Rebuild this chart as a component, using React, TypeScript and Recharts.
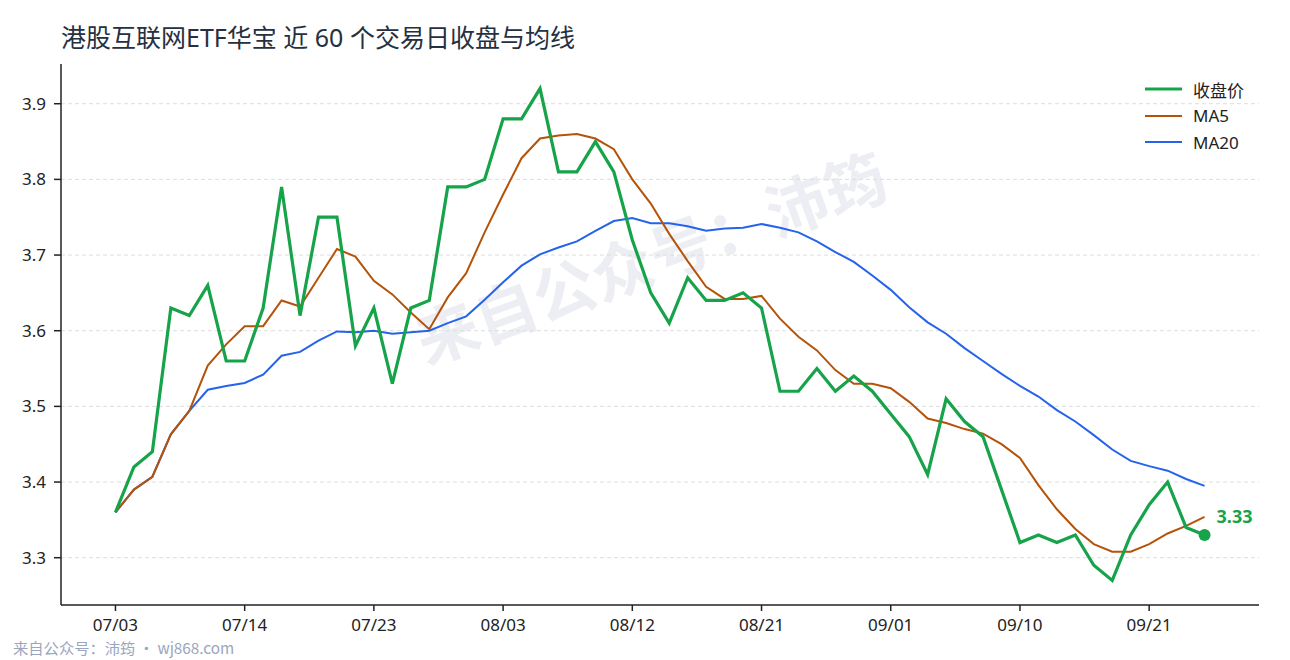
import React from 'react'
import { CartesianGrid, Line, LineChart, XAxis, YAxis } from 'recharts'

const TITLE = '港股互联网ETF华宝 近 60 个交易日收盘与均线'
const FOOTER = '来自公众号：沛筠 · wj868.com'
const WATERMARK = '来自公众号：沛筠'

const dates = [
  '07/03', '07/04', '07/07', '07/08', '07/09', '07/10', '07/11', '07/14', '07/15', '07/16',
  '07/17', '07/18', '07/21', '07/22', '07/23', '07/24', '07/25', '07/28', '07/29', '07/30',
  '07/31', '08/03', '08/04', '08/05', '08/06', '08/07', '08/08', '08/11', '08/12', '08/13',
  '08/14', '08/15', '08/18', '08/19', '08/20', '08/21', '08/22', '08/25', '08/26', '08/27',
  '08/28', '08/29', '09/01', '09/02', '09/03', '09/04', '09/05', '09/08', '09/09', '09/10',
  '09/11', '09/12', '09/15', '09/16', '09/17', '09/18', '09/21', '09/22', '09/23', '09/24',
]

const close = [
  3.36, 3.42, 3.44, 3.63, 3.62, 3.66, 3.56, 3.56, 3.63, 3.79,
  3.62, 3.75, 3.75, 3.58, 3.63, 3.53, 3.63, 3.64, 3.79, 3.79,
  3.8, 3.88, 3.88, 3.92, 3.81, 3.81, 3.85, 3.81, 3.72, 3.65,
  3.61, 3.67, 3.64, 3.64, 3.65, 3.63, 3.52, 3.52, 3.55, 3.52,
  3.54, 3.52, 3.49, 3.46, 3.41, 3.51, 3.48, 3.46, 3.39, 3.32,
  3.33, 3.32, 3.33, 3.29, 3.27, 3.33, 3.37, 3.4, 3.34, 3.33,
]

const ma5 = [
  3.36, 3.39, 3.407, 3.463, 3.494, 3.554, 3.582, 3.606, 3.606, 3.64,
  3.632, 3.67, 3.708, 3.698, 3.666, 3.648, 3.624, 3.602, 3.644, 3.676,
  3.73, 3.78, 3.828, 3.854, 3.858, 3.86, 3.854, 3.84, 3.8, 3.768,
  3.728, 3.692, 3.658, 3.642, 3.642, 3.646, 3.616, 3.592, 3.574, 3.548,
  3.53, 3.53, 3.524, 3.506, 3.484, 3.478, 3.47, 3.464, 3.45, 3.432,
  3.396, 3.364, 3.338, 3.318, 3.308, 3.308, 3.318, 3.332, 3.342, 3.354,
]

const ma20 = [
  3.36, 3.39, 3.407, 3.463, 3.494, 3.522, 3.527, 3.531, 3.542, 3.567,
  3.572, 3.587, 3.599, 3.598, 3.6, 3.596, 3.598, 3.6, 3.61, 3.619,
  3.641, 3.664, 3.686, 3.701, 3.71, 3.718, 3.732, 3.745, 3.749, 3.742,
  3.742, 3.738, 3.732, 3.735, 3.736, 3.741, 3.736, 3.73, 3.718, 3.704,
  3.691, 3.673, 3.654, 3.631, 3.611, 3.596, 3.577, 3.56, 3.543, 3.527,
  3.513, 3.495, 3.48, 3.462, 3.443, 3.428, 3.421, 3.415, 3.404, 3.395,
]

const xTicks = [0, 7, 14, 21, 28, 35, 42, 49, 56]
const yTicks = [3.3, 3.4, 3.5, 3.6, 3.7, 3.8, 3.9]
const Y_MIN = 3.2375
const Y_MAX = 3.9525

const COLORS = {
  close: '#16a34a',
  ma5: '#b45309',
  ma20: '#2563eb',
}

const LEGEND_ITEMS = [
  { key: 'close', label: '收盘价', color: COLORS.close, width: 3 },
  { key: 'ma5', label: 'MA5', color: COLORS.ma5, width: 2 },
  { key: 'ma20', label: 'MA20', color: COLORS.ma20, width: 2 },
]

const FONT = '"Noto Sans", "Noto Sans CJK SC", sans-serif'
const CJK_FONT = '"Noto Sans CJK SC", sans-serif'

const data = dates.map((d, i) => ({ idx: i, date: d, close: close[i], ma5: ma5[i], ma20: ma20[i] }))
const LAST = data.length - 1

// grid only at the tick values (no line at the top edge of the plot)
function gridRows({ offset }: any) {
  return yTicks.map(t => offset.top + (offset.height * (Y_MAX - t)) / (Y_MAX - Y_MIN))
}

function LastDot(props: any) {
  const { cx, cy, index } = props
  if (index !== LAST) return <g key={`d-${index}`} />
  return (
    <g key={`d-${index}`}>
      <circle cx={cx} cy={cy} r={6} fill={COLORS.close} />
      <text x={cx + 12} y={cy - 12} fill={COLORS.close} fontSize={18} fontWeight={700} fontFamily={FONT}>
        {close[LAST].toFixed(2)}
      </text>
    </g>
  )
}

function LegendBox() {
  return (
    <div style={{ position: 'absolute', left: 1145, top: 76, fontFamily: FONT, fontSize: 17, color: '#222' }}>
      {LEGEND_ITEMS.map(it => (
        <div key={it.key} style={{ display: 'flex', alignItems: 'center', height: 26.5 }}>
          <svg width={37} height={6} style={{ marginRight: 11 }}>
            <line x1={0} y1={3} x2={37} y2={3} stroke={it.color} strokeWidth={it.width} />
          </svg>
          <span>{it.label}</span>
        </div>
      ))}
    </div>
  )
}

export default function App() {
  return (
    <div style={{ position: 'absolute', left: 0, top: 0, width: 1290, height: 660, background: '#fff', overflow: 'hidden' }}>
      <div
        style={{
          position: 'absolute',
          left: 650,
          top: 255,
          transform: 'translate(-50%, -50%) rotate(-20deg)',
          fontFamily: CJK_FONT,
          fontWeight: 700,
          fontSize: 62,
          color: '#eceef3',
          whiteSpace: 'nowrap',
        }}
      >
        {WATERMARK}
      </div>
      <div
        style={{
          position: 'absolute',
          left: 61,
          top: 18,
          fontFamily: FONT,
          fontSize: 25,
          color: '#263040',
          whiteSpace: 'nowrap',
        }}
      >
        {TITLE}
      </div>
      <div
        style={{
          position: 'absolute',
          left: 13,
          top: 636,
          fontFamily: CJK_FONT,
          fontSize: 15.3,
          color: '#9aa6bd',
          whiteSpace: 'nowrap',
        }}
      >
        {FOOTER}
      </div>
      <div style={{ position: 'absolute', left: 0, top: 0 }}>
        <LineChart width={1290} height={660} data={data} margin={{ top: 64, right: 31, left: 11, bottom: 25 }}>
          <CartesianGrid
            vertical={false}
            stroke="#dddddd"
            strokeDasharray="4 3"
            horizontalCoordinatesGenerator={gridRows}
          />
          <XAxis
            dataKey="idx"
            type="number"
            domain={[-2.95, 61.95]}
            ticks={xTicks}
            tickFormatter={(v: number) => dates[v]}
            height={30}
            axisLine={{ stroke: '#222', strokeWidth: 1.5 }}
            tickLine={{ stroke: '#222', strokeWidth: 1.5 }}
            tickSize={6}
            tickMargin={8}
            tick={{ fontSize: 17, fill: '#222', fontFamily: FONT }}
            allowDataOverflow
          />
          <YAxis
            type="number"
            domain={[Y_MIN, Y_MAX]}
            ticks={yTicks}
            tickFormatter={(v: number) => v.toFixed(1)}
            width={50}
            axisLine={{ stroke: '#222', strokeWidth: 1.5 }}
            tickLine={{ stroke: '#222', strokeWidth: 1.5 }}
            tickSize={7}
            tickMargin={8}
            tick={{ fontSize: 17, fill: '#222', fontFamily: FONT }}
            allowDataOverflow
          />
          <Line
            type="linear"
            dataKey="ma20"
            stroke={COLORS.ma20}
            strokeWidth={2}
            dot={false}
            isAnimationActive={false}
          />
          <Line
            type="linear"
            dataKey="ma5"
            stroke={COLORS.ma5}
            strokeWidth={2}
            dot={false}
            isAnimationActive={false}
          />
          <Line
            type="linear"
            dataKey="close"
            stroke={COLORS.close}
            strokeWidth={3.2}
            dot={LastDot}
            isAnimationActive={false}
          />
        </LineChart>
      </div>
      <LegendBox />
    </div>
  )
}
